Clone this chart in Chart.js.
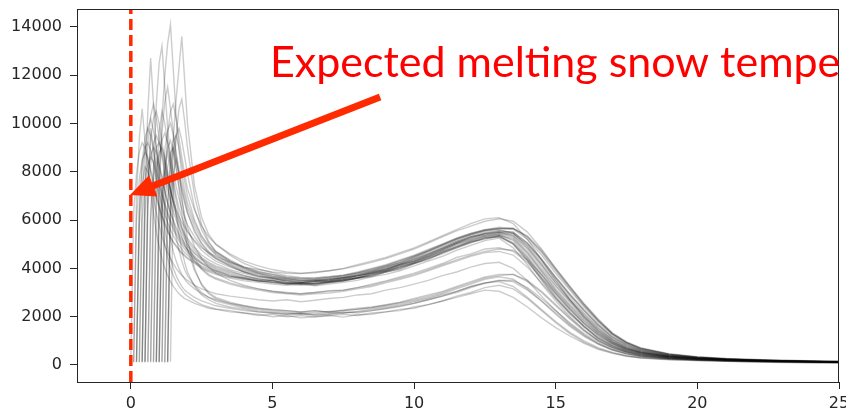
<!DOCTYPE html>
<html>
<head>
<meta charset="utf-8">
<script src="https://cdn.jsdelivr.net/npm/chart.js@4.4.1/dist/chart.umd.min.js"></script>
<style>
html,body{margin:0;padding:0;background:#fff;}
#wrap{width:846px;height:408px;position:relative;overflow:hidden;}
</style>
</head>
<body>
<div id="wrap"><canvas id="c" width="846" height="408"></canvas></div>
<script>
const _ = null;

// temperature grid (x values) shared by all curves
const tempGrid = [0,0.1,0.2,0.3,0.4,0.5,0.6,0.7,0.8,0.9,1.0,1.1,1.2,1.3,1.4,1.5,1.6,1.7,1.8,1.9,2.0,2.25,2.5,2.75,3.0,
  3.5,4,4.5,5,5.5,6,6.5,7,7.5,8,8.5,9,9.5,10,10.5,11,11.5,12,12.5,13,13.5,14,
  14.5,15,15.5,16,16.5,17,17.5,18,
  19,20,21,22,23,24,25];

const xTickValues = [0,5,10,15,20,25];
const yTickValues = [0,2000,4000,6000,8000,10000,12000,14000];

// counts per temperature bin, one list per sensor
const sensorCurves = [
 [150,6300,7900,8800,9200, 9000,8500,8000,7300,6900, 6500,6100,5800,5500,5300, 5050,4900,4750,4600,4500, 4400,4200,4000,3850,3750,
  3600,3480,3420,3350,3300, 3350,3280,3350,3420,3500, 3650,3750,3900,4100,4300, 4500,4750,4950,5150,5250, 4850,4150,
  3350,2650,2000,1450,1000,720,530,420, 300,240,200,170,150,130,115],
 [_,120,7000,9400,10600, 9300,8200,7200,6300,5500, 4900,4400,4000,3700,3450, 3250,3100,2950,2850,2750, 2700,2550,2450,2350,2300,
  2200,2150,2050,2100,2000, 2050,1980,2050,2100,2050, 2150,2200,2300,2350,2500, 2650,2800,2950,3100,3050, 2800,2400,
  1950,1550,1200,900,650,480,360,300, 230,185,150,125,105,92,82],
 [_,100,6000,7700,8500, 8800,8600,8100,7600,7000, 6600,6200,5900,5600,5300, 5100,4950,4800,4650,4550, 4450,4250,4050,3900,3800,
  3650,3550,3480,3420,3380, 3400,3450,3420,3500,3600, 3700,3850,4000,4200,4400, 4600,4850,5050,5250,5300, 5000,4300,
  3500,2750,2100,1550,1080,770,560,440, 310,250,205,175,155,135,118],
 [_,_,130,6600,8400, 9400,9800,9500,8900,8200, 7600,7100,6700,6300,6000, 5700,5450,5250,5050,4900, 4750,4450,4200,4050,3900,
  3700,3600,3500,3450,3350, 3400,3380,3450,3550,3620, 3750,3900,4050,4250,4450, 4700,4900,5150,5300,5350, 5050,4400,
  3600,2850,2200,1600,1120,800,580,450, 320,255,210,180,158,138,120],
 [_,_,110,5800,7400, 8200,8000,7500,6900,6300, 5800,5300,4950,4650,4400, 4200,4000,3850,3700,3600, 3500,3300,3150,3050,2950,
  2850,2780,2700,2650,2700, 2620,2680,2750,2800,2900, 2950,3100,3200,3350,3500, 3700,3850,4050,4200,4250, 4000,3500,
  2850,2250,1700,1250,880,640,470,370, 270,215,180,155,138,122,110],
 [_,_,_,100,7000, 8900,9800,10200,9700,9000, 8300,7700,7200,6700,6300, 6000,5700,5450,5250,5050, 4900,4600,4350,4150,4000,
  3800,3650,3550,3480,3400, 3350,3420,3480,3550,3680, 3800,3950,4100,4300,4500, 4750,5000,5200,5350,5400, 5150,4500,
  3750,3000,2350,1750,1250,880,640,490, 340,265,215,185,160,140,122],
 [_,_,_,_,150, 7500,10500,12700,10800,9000, 7600,6500,5600,4900,4400, 4000,3700,3450,3250,3100, 3000,2800,2650,2550,2450,
  2350,2250,2200,2150,2100, 2150,2080,2120,2200,2150, 2250,2350,2450,2550,2700, 2850,3050,3250,3400,3450, 3250,2800,
  2300,1800,1350,1000,720,520,390,310, 235,190,158,135,115,100,88],
 [_,_,_,_,100, 6200,7900,8700,9000,8800, 8300,7800,7200,6700,6300, 5900,5600,5350,5150,4950, 4800,4500,4250,4100,3950,
  3750,3600,3500,3420,3380, 3420,3350,3420,3500,3600, 3720,3880,4050,4220,4420, 4650,4900,5100,5250,5350, 5200,4600,
  3850,3100,2450,1850,1320,920,670,510, 350,270,220,185,162,142,124],
 [_,_,_,_,_, 120,6500,8300,9200,9500, 9200,8700,8200,7700,7200, 6800,6450,6150,5900,5700, 5500,5150,4850,4650,4500,
  4250,4050,3950,3850,3800, 3780,3850,3900,4000,4150, 4300,4450,4650,4850,5100, 5350,5600,5850,6050,6100, 5850,5200,
  4350,3500,2700,2000,1420,980,700,530, 365,285,235,205,182,164,150],
 [_,_,_,_,_, 100,7200,9300,10200,10500, 10000,9200,8500,7800,7200, 6700,6250,5900,5600,5350, 5150,4750,4450,4250,4100,
  3900,3700,3580,3500,3420, 3380,3350,3450,3500,3620, 3780,3900,4100,4280,4500, 4750,5000,5200,5350,5450, 5300,4700,
  3950,3250,2600,1950,1400,980,710,530, 365,280,225,190,165,145,126],
 [_,_,_,_,_, _,130,6000,7700,8500, 8100,7300,6500,5800,5200, 4700,4300,4000,3750,3550, 3400,3150,2950,2800,2700,
  2550,2450,2350,2280,2250, 2200,2250,2180,2250,2300, 2350,2450,2550,2650,2800, 2950,3150,3350,3550,3650, 3550,3150,
  2650,2100,1600,1180,850,610,450,350, 260,210,175,152,135,122,110],
 [_,_,_,_,_, _,110,6400,8200,9000, 9200,8900,8400,7800,7300, 6800,6400,6000,5700,5450, 5250,4850,4550,4350,4200,
  3950,3780,3650,3550,3480, 3420,3460,3520,3600,3700, 3850,4000,4180,4380,4600, 4850,5100,5300,5450,5500, 5350,4800,
  4050,3300,2650,2000,1450,1020,730,550, 375,285,228,192,166,146,127],
 [_,_,_,_,_, _,_,140,7800,10800, 12500,13200,11500,9800,8600, 7700,7000,6500,6100,5800, 5550,5100,4750,4500,4300,
  4050,3850,3700,3600,3500, 3450,3480,3550,3620,3750, 3900,4050,4250,4450,4700, 4950,5200,5400,5550,5600, 5450,4900,
  4150,3400,2700,2050,1500,1050,760,570, 385,290,232,195,168,148,128],
 [_,_,_,_,_, _,_,100,6300,8100, 8800,9000,8600,8000,7300, 6700,6200,5700,5300,5000, 4750,4300,3950,3700,3550,
  3350,3200,3100,3000,2950, 2900,2950,2980,3050,3150, 3250,3400,3550,3700,3900, 4100,4300,4500,4650,4700, 4550,4050,
  3400,2750,2150,1600,1150,820,600,460, 320,250,205,175,155,137,120],
 [_,_,_,_,_, _,_,_,_,120, 7600,10200,12000,13300,14100, 12200,10300,8900,7900,7200, 6700,5900,5300,4900,4600,
  4250,4000,3800,3680,3580, 3520,3500,3560,3620,3720, 3850,4000,4180,4380,4600, 4850,5100,5300,5450,5550, 5500,5050,
  4350,3600,2900,2250,1650,1150,830,620, 410,305,240,200,172,150,130],
 [_,_,_,_,_, _,_,_,100,6700, 8600,9300,9600,9200,8600, 8000,7400,6900,6450,6100, 5800,5300,4900,4600,4400,
  4100,3850,3700,3580,3500, 3420,3450,3500,3600,3680, 3820,3980,4150,4350,4580, 4820,5050,5250,5400,5450, 5380,4850,
  4150,3400,2700,2100,1520,1060,760,570, 385,290,232,195,168,148,128],
 [_,_,_,_,_, _,_,_,_,150, 5700,7300,8000,7600,6800, 6000,5300,4750,4300,3950, 3700,3300,3000,2800,2650,
  2500,2350,2250,2200,2150, 2100,2120,2180,2150,2220, 2300,2400,2500,2600,2750, 2900,3050,3250,3400,3500, 3450,3100,
  2650,2150,1650,1220,880,630,460,360, 265,212,176,153,136,122,110],
 [_,_,_,_,_, _,_,_,_,_, 120,7000,8900,9700,10000, 9500,8800,8100,7500,7000, 6500,5750,5200,4850,4550,
  4200,3950,3780,3650,3550, 3480,3500,3550,3650,3750, 3880,4050,4220,4420,4650, 4900,5150,5350,5500,5550, 5500,5050,
  4400,3650,2950,2300,1700,1200,870,650, 425,315,245,202,174,151,131],
 [_,_,_,_,_, _,_,_,_,_, 100,6500,8300,9000,9300, 8800,8100,7400,6800,6200, 5700,4900,4400,4050,3800,
  3500,3300,3150,3050,2980, 2950,3000,3050,3100,3200, 3300,3450,3600,3750,3950, 4150,4350,4550,4700,4800, 4750,4350,
  3750,3050,2400,1800,1300,920,670,500, 340,260,212,180,158,139,121],
 [_,_,_,_,_, _,_,_,_,_, _,130,7500,9600,10500, 10800,10200,9400,8600,7900, 7300,6400,5750,5300,5000,
  4600,4300,4100,3950,3850, 3800,3820,3900,3980,4100, 4250,4400,4600,4800,5050, 5300,5550,5750,5950,6050, 5950,5500,
  4800,4000,3250,2500,1850,1300,930,680, 450,335,268,225,198,180,165],
 [_,_,_,_,_, _,_,_,_,_, _,_,110,6500,8300, 9000,8300,7300,6300,5500, 4800,3900,3350,3000,2800,
  2600,2450,2350,2300,2250, 2200,2250,2200,2280,2350, 2400,2500,2600,2750,2900, 3050,3250,3450,3650,3750, 3750,3450,
  3000,2450,1900,1400,1000,720,520,400, 280,220,182,157,139,124,112],
 [_,_,_,_,_, _,_,_,_,_, _,_,100,6700,8600, 9300,9500,9000,8300,7600, 7000,6000,5350,4950,4650,
  4300,4000,3820,3700,3600, 3520,3550,3600,3700,3800, 3950,4100,4300,4500,4720, 4980,5220,5420,5580,5650, 5620,5200,
  4550,3800,3100,2400,1780,1250,900,670, 435,318,248,204,175,152,131],
 [_,_,_,_,_, _,_,_,_,_, _,_,_,140,7200, 9400,11000,12300,13600,11800, 10000,7400,6100,5400,5000,
  4550,4200,3980,3820,3700, 3620,3600,3650,3720,3820, 3980,4120,4320,4520,4750, 5000,5250,5450,5600,5700, 5650,5300,
  4650,3900,3150,2450,1820,1280,920,690, 445,322,250,206,176,153,132],
 [_,_,_,_,_, _,_,_,_,_, _,_,_,120,6200, 7900,8500,7900,7000,6000, 5200,4000,3300,2950,2750,
  2550,2400,2300,2250,2200, 2150,2180,2220,2250,2300, 2380,2480,2580,2700,2850, 3000,3200,3400,3600,3700, 3750,3500,
  3050,2500,1950,1450,1030,740,530,410, 285,222,184,158,140,125,112],
 [_,_,_,_,_, _,_,_,_,_, _,_,_,_,130, 7300,9500,10600,11000,10100, 9000,7000,5800,5100,4700,
  4300,4050,3880,3750,3650, 3580,3600,3650,3720,3850, 4000,4150,4350,4550,4780, 5000,5250,5450,5600,5650, 5650,5300,
  4700,3950,3200,2500,1850,1300,940,700, 450,325,252,207,177,154,133],
 [_,_,_,120,6000, 7600,8300,8600,8400,8000, 7500,7000,6600,6200,5900, 5600,5350,5150,4950,4800, 4650,4400,4200,4000,3900,
  3700,3550,3480,3400,3350, 3300,3350,3400,3480,3580, 3700,3850,4000,4200,4400, 4650,4880,5080,5250,5300, 5050,4450,
  3700,2950,2300,1700,1200,850,620,480, 335,262,214,183,159,139,121],
 [_,_,120,6300,8100, 9000,9200,8900,8300,7700, 7100,6600,6200,5900,5600, 5350,5150,4950,4800,4650, 4550,4300,4100,3950,3850,
  3650,3600,3450,3500,3350, 3380,3300,3420,3460,3600, 3650,3850,3950,4200,4350, 4650,4850,5100,5200,5350, 5000,4350,
  3550,2800,2150,1600,1100,780,570,440, 300,240,195,165,140,120,100],
 [_,_,_,_,_, 140,7000,9800,9000,7700, 6600,5700,5000,4450,4000, 3700,3450,3250,3100,2950, 2850,2650,2500,2400,2320,
  2250,2150,2100,2000,2050, 1950,2000,2050,1980,2080, 2100,2200,2250,2400,2500, 2650,2850,3000,3200,3300, 3150,2750,
  2250,1750,1300,950,680,500,370,290, 220,180,150,130,115,102,92],
 [_,_,_,_,_, _,_,_,130,7400, 9600,10500,10000,9200,8300, 7500,6800,6200,5700,5300, 5000,4400,4000,3750,3600,
  3400,3250,3150,3050,3000, 2950,3000,3080,3100,3200, 3350,3480,3650,3800,4000, 4200,4450,4600,4800,4850, 4700,4250,
  3600,2950,2300,1720,1240,880,640,490, 330,255,208,178,157,138,120],
 [_,_,_,_,_, _,_,_,_,_, _,110,6400,8200,8800, 9000,8500,7900,7300,6800, 6300,5500,5000,4650,4400,
  4100,3850,3650,3600,3450, 3400,3480,3450,3550,3700, 3780,3950,4150,4300,4550, 4800,5050,5250,5450,5500, 5450,5000,
  4350,3600,2900,2250,1650,1150,830,620, 410,300,235,195,168,146,126],
 [_,_,_,_,_, _,_,_,_,100, 7300,9600,10900,11500,10600, 9600,8700,7900,7200,6700, 6300,5600,5050,4700,4450,
  4150,3900,3750,3620,3550, 3480,3520,3500,3600,3700, 3820,3950,4150,4320,4550, 4800,5050,5300,5400,5500, 5450,4950,
  4250,3500,2800,2150,1580,1100,800,600, 400,300,236,198,170,148,128],
 [_,_,_,_,120, 7100,9200,10300,10800,10200, 9400,8600,7900,7300,6800, 6350,6000,5700,5450,5200, 5000,4650,4400,4200,4050,
  3850,3700,3550,3500,3420, 3350,3380,3450,3520,3600, 3750,3900,4050,4250,4480, 4700,4950,5150,5300,5400, 5250,4650,
  3900,3150,2500,1900,1350,950,690,520, 355,272,220,186,162,142,123],
 [_,_,_,_,_, _,_,_,_,_, 130,6200,8000,8800,8200, 7200,6200,5400,4750,4250, 3850,3250,2900,2700,2550,
  2400,2300,2200,2150,2100, 2120,2050,2100,2150,2200, 2250,2330,2420,2550,2700, 2850,3000,3200,3380,3500, 3500,3200,
  2750,2250,1750,1300,940,680,490,380, 270,215,178,154,137,123,111],
 [_,_,_,_,_, _,_,_,_,_, _,_,_,100,6800, 8700,9500,9800,9300,8600, 7900,6500,5600,5050,4700,
  4350,4050,3850,3750,3620, 3580,3550,3620,3680,3800, 3920,4080,4250,4480,4700, 4950,5200,5400,5550,5650, 5650,5350,
  4750,4000,3250,2550,1900,1330,960,720, 470,345,270,225,195,172,155]
];

// expected melting temperature marker and annotation (data units)
const meltTemp = 0;
const annotationText = 'Expected melting snow temperature';
const annotationAnchor = [4.91, 11921];
const arrowTail = [8.80, 11093];
const arrowTip = [-0.03, 7036];

const X_MIN = -1.9, X_MAX = 25, Y_MIN = -704, Y_MAX = 14735;

const datasets = sensorCurves.map(vals => ({
  data: tempGrid.map((x, i) => vals[i] === null ? null : {x: x, y: vals[i]}).filter(p => p),
  borderColor: 'rgba(0,0,0,0.2)',
  borderWidth: 1.4,
  pointRadius: 0,
  tension: 0,
  fill: false,
  order: 1
}));
datasets.push({
  data: [{x: meltTemp, y: Y_MIN}, {x: meltTemp, y: Y_MAX}],
  borderColor: '#ff2a00',
  borderWidth: 3.5,
  borderDash: [11, 5],
  pointRadius: 0,
  fill: false,
  order: 0
});

const overlay = {
  id: 'overlay',
  afterDatasetsDraw(chart) {
    const {ctx, chartArea: a, scales: {x, y}} = chart;
    ctx.save();
    ctx.strokeStyle = '#262626';
    ctx.lineWidth = 1;
    ctx.strokeRect(a.left + 0.5, a.top + 0.5, a.right - a.left - 1, a.bottom - a.top);
    ctx.restore();
    const tx = x.getPixelForValue(arrowTail[0]), ty = y.getPixelForValue(arrowTail[1]);
    const hx = x.getPixelForValue(arrowTip[0]), hy = y.getPixelForValue(arrowTip[1]);
    const ang = Math.atan2(hy - ty, hx - tx);
    const headLen = 25, headHalf = 11.5;
    const bx = hx - headLen * Math.cos(ang), by = hy - headLen * Math.sin(ang);
    ctx.save();
    ctx.strokeStyle = '#ff2a00';
    ctx.fillStyle = '#ff2a00';
    ctx.lineWidth = 7;
    ctx.lineCap = 'butt';
    ctx.beginPath();
    ctx.moveTo(tx, ty);
    ctx.lineTo(bx + 2 * Math.cos(ang), by + 2 * Math.sin(ang));
    ctx.stroke();
    ctx.beginPath();
    ctx.moveTo(hx, hy);
    ctx.lineTo(bx + headHalf * Math.sin(ang), by - headHalf * Math.cos(ang));
    ctx.lineTo(bx - headHalf * Math.sin(ang), by + headHalf * Math.cos(ang));
    ctx.closePath();
    ctx.fill();
    ctx.restore();
    ctx.save();
    ctx.beginPath();
    ctx.rect(0, 0, a.right, chart.height);
    ctx.clip();
    ctx.fillStyle = '#ff0000';
    ctx.font = '43px Lato, "Open Sans", sans-serif';
    ctx.textBaseline = 'alphabetic';
    ctx.textAlign = 'left';
    ctx.fillText(annotationText, x.getPixelForValue(annotationAnchor[0]), y.getPixelForValue(annotationAnchor[1]));
    ctx.restore();
  }
};

const tickFont = {family: '"DejaVu Sans", sans-serif', size: 16};

new Chart(document.getElementById('c'), {
  type: 'line',
  data: {datasets},
  options: {
    responsive: false,
    animation: false,
    devicePixelRatio: 1,
    events: [],
    layout: {padding: {top: 9, right: 7, left: 0, bottom: 0}},
    plugins: {legend: {display: false}, tooltip: {enabled: false}},
    scales: {
      x: {
        type: 'linear', min: X_MIN, max: X_MAX,
        afterBuildTicks: s => { s.ticks = xTickValues.map(v => ({value: v})); },
        afterFit: s => { s.height = 26; s.paddingLeft = 0; s.paddingRight = 0; },
        grid: {drawOnChartArea: false, drawTicks: true, tickLength: 7, color: '#262626'},
        border: {display: false},
        ticks: {font: tickFont, color: '#262626', padding: 5, maxRotation: 0, autoSkip: false}
      },
      y: {
        type: 'linear', min: Y_MIN, max: Y_MAX,
        afterBuildTicks: s => { s.ticks = yTickValues.map(v => ({value: v})); },
        afterFit: s => { s.width = 77; s.paddingTop = 0; s.paddingBottom = 0; },
        grid: {drawOnChartArea: false, drawTicks: true, tickLength: 7, color: '#262626'},
        border: {display: false},
        ticks: {font: tickFont, color: '#262626', padding: 8, autoSkip: false, callback: v => String(v)}
      }
    }
  },
  plugins: [overlay]
});

sensorCurves.forEach((c, i) => { if (c.length !== tempGrid.length) throw new Error('curve ' + i + ' has ' + c.length); });
</script>
</body>
</html>
